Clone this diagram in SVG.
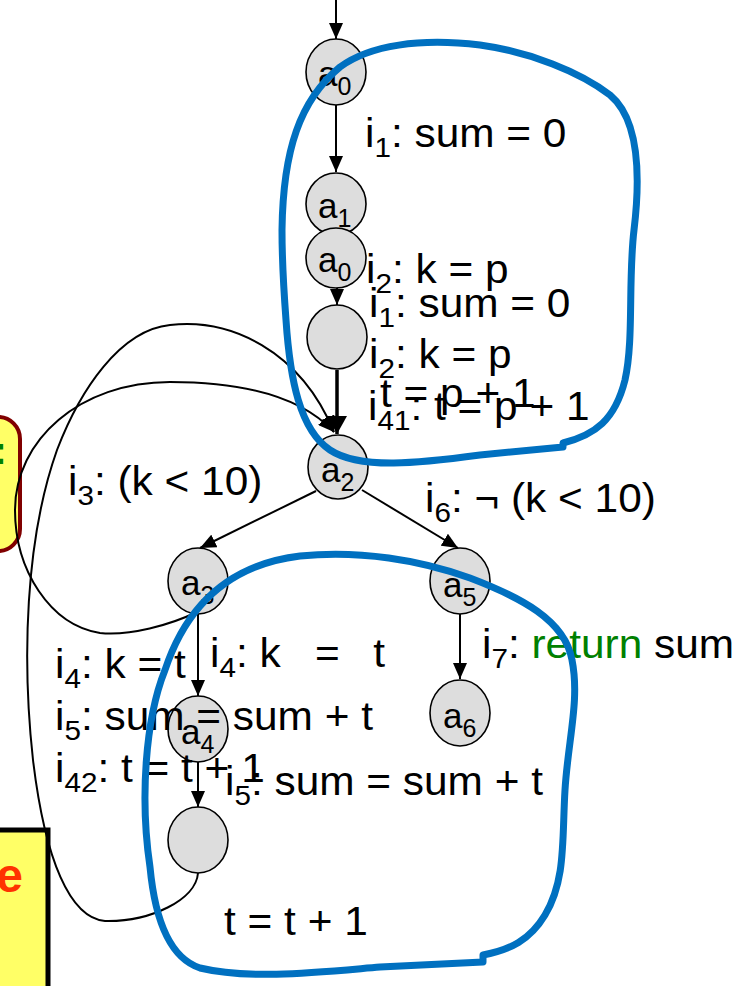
<svg xmlns="http://www.w3.org/2000/svg" width="748" height="986" viewBox="0 0 748 986">
<style>
.nd{fill:#DDDDDD;stroke:#000;stroke-width:1.6}
.nl{font-family:"Liberation Sans",Arial,sans-serif;font-size:35px;fill:#000}
.tx{font-family:"Liberation Sans",Arial,sans-serif;font-size:40px;fill:#000}
.e{fill:none;stroke:#000;stroke-width:2}
.blue{fill:none;stroke:#0070C0;stroke-width:7;stroke-linejoin:round}
</style>
<defs>
<marker id="ah" viewBox="0 0 16 14" refX="16" refY="7" markerWidth="16" markerHeight="14" markerUnits="userSpaceOnUse" orient="auto"><path d="M0,0 L16,7 L0,14 z" fill="#000"/></marker>
<marker id="ahb" viewBox="0 0 18 20" refX="18" refY="10" markerWidth="18" markerHeight="20" markerUnits="userSpaceOnUse" orient="auto"><path d="M0,0 L18,10 L0,20 z" fill="#000"/></marker>
</defs>
<rect width="748" height="986" fill="#fff"/>

<g id="note1">
<rect x="-40" y="417" width="60" height="134" rx="22" fill="#FFFF66" stroke="#800000" stroke-width="4"/>
<text x="-6" y="464" font-family="Liberation Sans,Arial,sans-serif" font-size="38" font-weight="bold" fill="#008000">:</text>
</g>
<g id="note2">
<rect x="-10" y="830" width="58" height="200" fill="#FFFF66" stroke="#000" stroke-width="5"/>
<text x="23" y="892" text-anchor="end" font-family="Liberation Sans,Arial,sans-serif" font-size="48" font-weight="bold" fill="#FF3300">e</text>
</g>

<g id="connectors">
<path class="e" d="M336,0 L336,39" marker-end="url(#ah)"/>
<path class="e" d="M336,105 L336,172" marker-end="url(#ah)"/>
<path class="e" d="M337,230 L337,305" marker-end="url(#ah)"/>
<path class="e" d="M198,873 C196,900 150,922 105,921 C70,918 45,860 33,760 C22,660 25,540 57,450 C80,390 120,330 170,325 C230,318 300,350 334,432" marker-end="url(#ah)"/>
<path class="e" d="M197,612 C170,625 130,636 100,633 C50,625 15,570 15,510 C15,440 80,382 170,382 C240,382 300,395 334,432" marker-end="url(#ah)"/>
<path d="M337,370 L337,434" fill="none" stroke="#000" stroke-width="3.5" marker-end="url(#ahb)"/>
<path class="e" d="M316,491 L200,548" marker-end="url(#ah)"/>
<path class="e" d="M362,490 L458,548" marker-end="url(#ah)"/>
<path class="e" d="M198,614 L198,696" marker-end="url(#ah)"/>
<path class="e" d="M460,614 L460,679" marker-end="url(#ah)"/>
<path class="e" d="M198,762 L198,807" marker-end="url(#ah)"/>
</g>

<g id="a0"><ellipse class="nd" cx="336" cy="72" rx="30" ry="33"/><text class="nl" x="318" y="86">a<tspan font-size="25" dy="9">0</tspan></text></g>
<g id="a1"><ellipse class="nd" cx="336" cy="204" rx="30" ry="31"/><text class="nl" x="318" y="218">a<tspan font-size="25" dy="9">1</tspan></text></g>
<g id="a0b"><ellipse class="nd" cx="336" cy="258" rx="30" ry="30"/><text class="nl" x="318" y="272">a<tspan font-size="25" dy="9">0</tspan></text></g>
<g id="n1"><ellipse class="nd" cx="337" cy="337" rx="30" ry="32"/></g>
<g id="a2"><ellipse class="nd" cx="338" cy="467" rx="30" ry="32"/><text class="nl" x="321" y="482">a<tspan font-size="25" dy="9">2</tspan></text></g>
<g id="a3"><ellipse class="nd" cx="198" cy="581" rx="30" ry="33"/><text class="nl" x="181" y="595">a<tspan font-size="25" dy="9">3</tspan></text></g>
<g id="a5"><ellipse class="nd" cx="460" cy="581" rx="30" ry="33"/><text class="nl" x="443" y="597">a<tspan font-size="25" dy="9">5</tspan></text></g>
<g id="a6"><ellipse class="nd" cx="460" cy="713" rx="30" ry="33"/><text class="nl" x="443" y="728">a<tspan font-size="25" dy="9">6</tspan></text></g>
<g id="a4"><ellipse class="nd" cx="198" cy="729" rx="30" ry="33"/><text class="nl" x="181" y="744">a<tspan font-size="25" dy="9">4</tspan></text></g>
<g id="n2"><ellipse class="nd" cx="198" cy="840" rx="30" ry="33"/></g>

<g id="labels">
<text class="tx" transform="translate(365,147) scale(1.06,1)">i<tspan font-size="28" dy="10">1</tspan><tspan dy="-10">: sum = 0</tspan></text>
<text class="tx" transform="translate(366,283) scale(1.06,1)">i<tspan font-size="28" dy="10">2</tspan><tspan dy="-10">: k = p</tspan></text>
<text class="tx" transform="translate(369,317) scale(1.06,1)">i<tspan font-size="28" dy="10">1</tspan><tspan dy="-10">: sum = 0</tspan></text>
<text class="tx" transform="translate(369,368) scale(1.06,1)">i<tspan font-size="28" dy="10">2</tspan><tspan dy="-10">: k = p</tspan></text>
<text class="tx" transform="translate(380,407) scale(1.06,1)">t = p + 1</text>
<text class="tx" transform="translate(368,420) scale(1.06,1)">i<tspan font-size="28" dy="10">41</tspan><tspan dy="-10">: t = p + 1</tspan></text>
<text class="tx" transform="translate(68,495) scale(1.06,1)">i<tspan font-size="28" dy="10">3</tspan><tspan dy="-10">: (k &lt; 10)</tspan></text>
<text class="tx" transform="translate(425,512) scale(1.06,1)">i<tspan font-size="28" dy="10">6</tspan><tspan dy="-10">: ¬ (k &lt; 10)</tspan></text>
<text class="tx" transform="translate(482,658) scale(1.06,1)">i<tspan font-size="28" dy="10">7</tspan><tspan dy="-10">: </tspan><tspan fill="#008000">return</tspan> sum</text>
<text class="tx" transform="translate(55,678) scale(1.06,1)">i<tspan font-size="28" dy="10">4</tspan><tspan dy="-10">: k = t</tspan></text>
<text class="tx" transform="translate(210,667) scale(1.06,1)">i<tspan font-size="28" dy="10">4</tspan><tspan dy="-10">: k</tspan><tspan x="99">=</tspan><tspan x="154">t</tspan></text>
<text class="tx" transform="translate(55,730) scale(1.06,1)">i<tspan font-size="28" dy="10">5</tspan><tspan dy="-10">: sum = sum + t</tspan></text>
<text class="tx" transform="translate(55,782) scale(1.06,1)">i<tspan font-size="28" dy="10">42</tspan><tspan dy="-10">: t = t + 1</tspan></text>
<text class="tx" transform="translate(225,795) scale(1.06,1)">i<tspan font-size="28" dy="10">5</tspan><tspan dy="-10">: sum = sum + t</tspan></text>
<text class="tx" transform="translate(224,935) scale(1.06,1)">t = t + 1</text>
</g>

<g id="regions">
<path class="blue" d="M282,230 C283,150 300,100 340,67 C370,45 420,38 480,45 C530,52 580,72 610,95 C640,120 640,180 634,230 C628,280 634,340 625,380 C615,420 595,435 563,443 L563,447 L480,455 C420,463 360,470 330,450 C300,430 290,380 286,320 C283,280 282,250 282,230 Z"/>
<path class="blue" d="M150,867 C140,800 145,720 165,670 C185,610 225,565 300,556 C360,550 420,560 470,578 C520,597 565,620 572,660 C580,700 568,740 565,790 C562,840 566,880 545,915 C530,940 510,950 483,955 L483,962 L380,967 C320,972 250,980 200,968 C170,958 155,920 150,867 Z"/>
</g>
</svg>
